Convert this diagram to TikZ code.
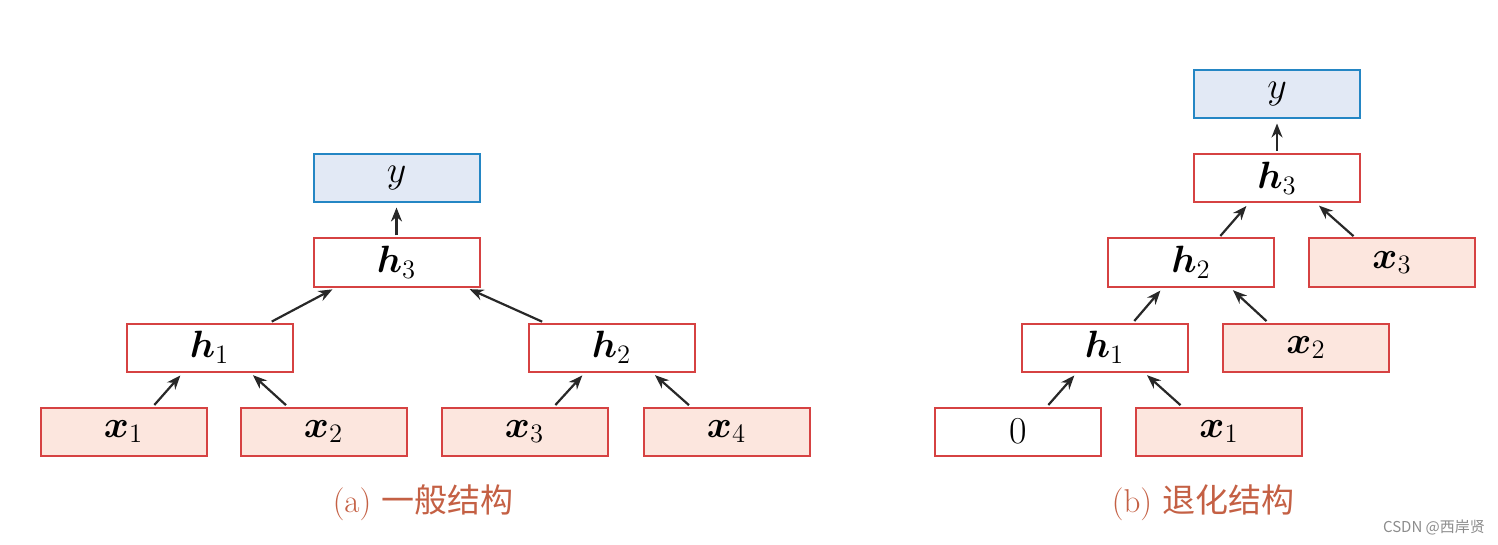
\RequirePackage{fix-cm}
\documentclass[tikz,border=0pt]{standalone}
\usepackage{amsmath}
\usepackage{fontspec}
\newfontfamily\cjk{Noto Sans CJK SC}
\usepackage{tikz}
\usetikzlibrary{arrows.meta,positioning,calc}
\definecolor{boxred}{RGB}{214,66,66}
\definecolor{inred}{RGB}{252,230,222}
\definecolor{outblue}{RGB}{36,134,196}
\definecolor{outfill}{RGB}{226,233,245}
\definecolor{capred}{RGB}{196,96,68}
\definecolor{arrgray}{RGB}{40,40,40}
\definecolor{markgray}{RGB}{140,140,140}

\begin{document}
\begin{tikzpicture}[x=0.5pt, y=-0.5pt,
        block/.style={rectangle, draw=boxred, line width=1pt, fill=white, minimum width=83pt, minimum height=24pt, inner sep=0pt, font=\fontsize{19}{22}\selectfont},
        input/.style={block, fill=inred},
        output/.style={block, draw=outblue, fill=outfill},
        conn/.style={-{Stealth[length=7pt,width=5.5pt]}, line width=1.1pt, draw=arrgray, shorten <=1pt, shorten >=2pt},
        caption/.style={text=capred, font=\fontsize{16.5}{19}\selectfont}]

        \useasboundingbox (0,0) rectangle (1498,545);

        % (a) general structure
        \node[output] (ya) at (396.5,178.5) {$y$};
        \node[block] (h3a) at (396.5,262.5) {$\boldsymbol{h}_3$};
        \node[block] (h1a) at (209.5,347.5) {$\boldsymbol{h}_1$};
        \node[block] (h2a) at (611.5,347.5) {$\boldsymbol{h}_2$};
        \node[input] (x1a) at (123.5,431.5) {$\boldsymbol{x}_1$};
        \node[input, right=16pt of x1a] (x2a) {$\boldsymbol{x}_2$};
        \node[input, right=16.5pt of x2a] (x3a) {$\boldsymbol{x}_3$};
        \node[input, right=17pt of x3a] (x4a) {$\boldsymbol{x}_4$};
        \node[caption] (capa) at (423,503) {(a) {\cjk 一般结构}};

        \draw[conn] ([xshift=14.75pt]x1a.north) -- ([xshift=-13.25pt]h1a.south);
        \draw[conn] ([xshift=-18pt]x2a.north) -- ([xshift=20.25pt]h1a.south);
        \draw[conn] ([xshift=14.75pt]x3a.north) -- ([xshift=-13.25pt]h2a.south);
        \draw[conn] ([xshift=-18pt]x4a.north) -- ([xshift=20.25pt]h2a.south);
        \draw[conn] ([xshift=30.25pt]h1a.north) -- ([xshift=-30.25pt]h3a.south);
        \draw[conn] ([xshift=-33.75pt]h2a.north) -- ([xshift=34.75pt]h3a.south);
        \draw[conn] (h3a.north) -- (ya.south);

        % (b) degenerate structure
        \node[output] (yb) at (1277,94.5) {$y$};
        \node[block] (h3b) at (1277,178) {$\boldsymbol{h}_3$};
        \node[block] (h2b) at (1191,262.5) {$\boldsymbol{h}_2$};
        \node[input] (x3b) at (1392,262.5) {$\boldsymbol{x}_3$};
        \node[block] (h1b) at (1104.5,347.5) {$\boldsymbol{h}_1$};
        \node[input] (x2b) at (1306,347.5) {$\boldsymbol{x}_2$};
        \node[block] (zb) at (1018,431.5) {0};
        \node[input] (x1b) at (1219,431.5) {$\boldsymbol{x}_1$};
        \node[caption] (capb) at (1203,503) {(b) {\cjk 退化结构}};

        \draw[conn] ([xshift=14.5pt]zb.north) -- ([xshift=-13.75pt]h1b.south);
        \draw[conn] ([xshift=-18.5pt]x1b.north) -- ([xshift=19.75pt]h1b.south);
        \draw[conn] ([xshift=14.25pt]h1b.north) -- ([xshift=-14pt]h2b.south);
        \draw[conn] ([xshift=-19pt]x2b.north) -- ([xshift=19.5pt]h2b.south);
        \draw[conn] ([xshift=14pt]h2b.north) -- ([xshift=-14pt]h3b.south);
        \draw[conn] ([xshift=-18.5pt]x3b.north) -- ([xshift=19.5pt]h3b.south);
        \draw[conn] (h3b.north) -- (yb.south);

        \node[text=markgray, font=\cjk\fontsize{7.5}{9}\selectfont] (mark) at (1434,527) {CSDN @西岸贤};
    \end{tikzpicture}
\end{document}
